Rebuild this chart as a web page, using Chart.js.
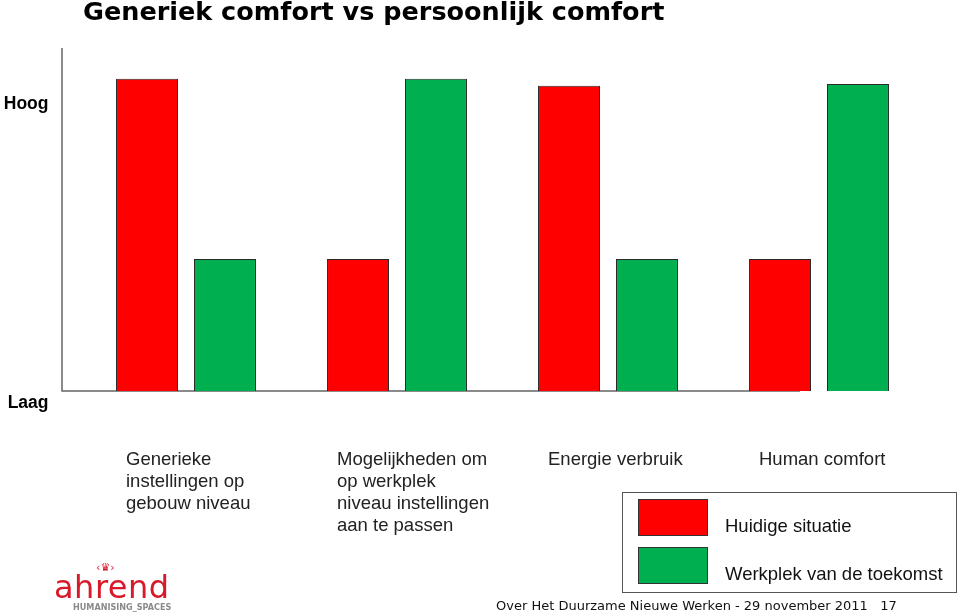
<!DOCTYPE html>
<html>
<head>
<meta charset="utf-8">
<script src="https://cdn.jsdelivr.net/npm/chart.js@4.4.1/dist/chart.umd.min.js"></script>
<style>
    html, body { margin: 0; padding: 0; background: #fff; }
    #wrap { position: relative; width: 960px; height: 616px; overflow: hidden; font-family: "Liberation Sans", Arial, sans-serif; }
    #chart { position: absolute; left: 0; top: 0; }
    #title { position: absolute; left: 83px; top: -4px; font: bold 25.5px "DejaVu Sans", Verdana, sans-serif; color: #000; white-space: nowrap; }
    #legend { position: absolute; left: 622px; top: 492px; width: 335px; height: 101px; border: 1px solid #555; box-sizing: border-box; }
    .item { position: absolute; left: 15px; display: flex; align-items: center; }
    .swatch { width: 70px; height: 37px; border: 1px solid #333; box-sizing: border-box; }
    .item span { margin-left: 17px; font-size: 18.5px; color: #111; margin-top: 18px; }
    #footer { position: absolute; left: 496px; top: 598px; font: 13px "DejaVu Sans", Verdana, sans-serif; color: #111; white-space: pre; }
    #logo { position: absolute; left: 54px; top: 562px; width: 124px; }
    #logo .crown { font: 11px "DejaVu Sans", sans-serif; color: #d7192a; margin-left: 42px; line-height: 11px; }
    #logo .name { font: 32px "DejaVu Sans", sans-serif; color: #d7192a; letter-spacing: 0.5px; line-height: 28px; }
    #logo .sub { font: bold 9px "DejaVu Sans Condensed", sans-serif; color: #8a8a8a; margin-left: 19px; margin-top: 1px; }
</style>
</head>
<body>
<div id="wrap">
    <canvas id="chart" width="960" height="616"></canvas>
    <div id="title">Generiek comfort vs persoonlijk comfort</div>
    <div id="legend"></div>
    <div id="logo"><div class="crown">‹♛›</div><div class="name">ahrend</div><div class="sub">HUMANISING_SPACES</div></div>
    <div id="footer">Over Het Duurzame Nieuwe Werken - 29 november 2011   17</div>
</div>
<script>
const categories = [
    ["Generieke", "instellingen op", "gebouw niveau"],
    ["Mogelijkheden om", "op werkplek", "niveau instellingen", "aan te passen"],
    ["Energie verbruik"],
    ["Human comfort"],
];
const seriesNames = ["Huidige situatie", "Werkplek van de toekomst"];
const huidige = [91, 38.5, 89, 38.5];
const toekomst = [38.5, 91, 38.5, 89.5];
const yTickValues = [-3.5, 83.7];
const yTickLabels = ["Laag", "Hoog"];
const colors = ["#ff0000", "#00b050"];

// axis lines sit a bit left of the plot, x line stops short like in the slide
const axisLines = {
    id: "axisLines",
    beforeDatasetsDraw(chart) {
        const { ctx, chartArea, scales } = chart;
        const x0 = chartArea.left - 18.5;
        const y0 = scales.y.getPixelForValue(0);
        ctx.save();
        ctx.strokeStyle = "#666";
        ctx.lineWidth = 1.5;
        ctx.beginPath();
        ctx.moveTo(x0, chartArea.top);
        ctx.lineTo(x0, y0);
        ctx.lineTo(scales.x.getPixelForValue(3) - 19, y0);
        ctx.stroke();
        ctx.restore();
    },
};

const chart = new Chart(document.getElementById("chart"), {
    type: "bar",
    data: {
        labels: categories,
        datasets: [
            { label: seriesNames[0], data: huidige, backgroundColor: colors[0] },
            { label: seriesNames[1], data: toekomst, backgroundColor: colors[1] },
        ].map(d => ({ ...d, borderColor: "#2a2a2a", borderWidth: 1, categoryPercentage: 0.739, barPercentage: 0.795 })),
    },
    options: {
        responsive: false,
        animation: false,
        layout: { padding: { top: 48, left: 0, right: 35.5, bottom: 0 } },
        plugins: { legend: { display: false }, tooltip: { enabled: false } },
        scales: {
            x: {
                grid: { display: false, drawTicks: false },
                border: { display: false },
                ticks: {
                    align: "start",
                    labelOffset: -60,
                    padding: 37,
                    color: "#222",
                    font: { family: "Liberation Sans", size: 18.5, lineHeight: "22px" },
                    maxRotation: 0,
                    autoSkip: false,
                },
                afterFit: s => {
                    s.height = 204.4;
                    s.paddingLeft = 0;
                    s.paddingRight = 0;
                },
            },
            y: {
                min: -6,
                max: 100,
                grid: { display: false, drawTicks: false },
                border: { display: false },
                afterBuildTicks: s => { s.ticks = yTickValues.map(v => ({ value: v })); },
                ticks: {
                    padding: 32,
                    color: "#000",
                    font: { family: "Liberation Sans", size: 17.5, weight: "bold" },
                    callback: (v, i) => yTickLabels[i],
                },
                afterFit: s => { s.width = 80.5; },
            },
        },
    },
    plugins: [axisLines],
});

// legend from the datasets
const legend = document.getElementById("legend");
chart.data.datasets.forEach((d, i) => {
    const item = document.createElement("div");
    item.className = "item";
    item.style.top = (4 + i * 48) + "px";
    item.innerHTML = '<div class="swatch" style="background:' + d.backgroundColor + '"></div><span>' + d.label + "</span>";
    legend.appendChild(item);
});
</script>
</body>
</html>
